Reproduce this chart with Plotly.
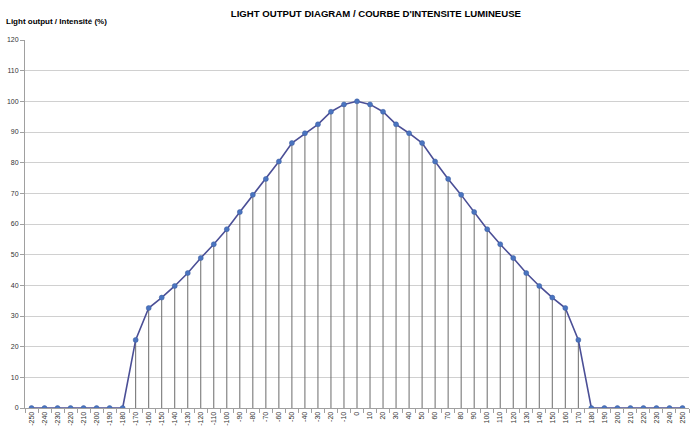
import plotly.graph_objects as go

angles = list(range(-250, 251, 10))
right_half = [100, 99.0, 96.6, 92.5, 89.6, 86.4, 80.4, 74.7, 69.5, 63.9, 58.3,
              53.4, 48.9, 44.0, 39.8, 36.0, 32.6, 22.2, 0, 0, 0, 0, 0, 0, 0, 0]
intensity = right_half[:0:-1] + right_half
tick_labels = [str(a) for a in angles]
cats = tick_labels

fig = go.Figure()
fig.add_trace(go.Scatter(
    x=cats, y=intensity, mode="lines+markers",
    line=dict(color="#4B4F96", width=1.6),
    marker=dict(symbol="circle", size=5, color="#4A74C0",
                line=dict(color="#3D5C9E", width=0.5)),
    error_y=dict(type="data", symmetric=False,
                 array=[0] * len(intensity), arrayminus=intensity,
                 color="#6B6B6B", thickness=1, width=0),
    hoverinfo="x+y", showlegend=False,
))

fig.update_layout(
    width=700, height=440,
    margin=dict(l=25, r=11, t=40, b=32),
    paper_bgcolor="white", plot_bgcolor="white",
    font=dict(family="Liberation Sans, Arial, sans-serif", color="#000"),
    title=dict(text="<b>LIGHT OUTPUT DIAGRAM / COURBE D'INTENSITE LUMINEUSE</b>",
               x=0.537, xanchor="center", y=0.97, yanchor="middle",
               font=dict(size=9.6, color="#000")),
    annotations=[dict(text="<b>Light output / Intensité (%)</b>",
                      xref="paper", yref="paper", x=-0.0315, y=1.05,
                      xanchor="left", yanchor="middle", showarrow=False,
                      font=dict(size=8, color="#000"))],
)
fig.update_xaxes(
    type="category", categoryorder="array", categoryarray=cats,
    tickvals=cats, ticktext=tick_labels, tickangle=-90,
    tickfont=dict(size=7, color="#333"),
    showgrid=False, showline=True, linecolor="#A0A0A0", linewidth=1,
    ticks="outside", ticklen=4, tickcolor="#A0A0A0", tickson="boundaries",
    range=[-0.5, 50.5], automargin=False, zeroline=False,
)
fig.update_yaxes(
    range=[0, 120], dtick=10, tickfont=dict(size=7, color="#333"),
    showgrid=True, gridcolor="#D0D0D0", gridwidth=1,
    showline=True, linecolor="#A0A0A0", linewidth=1,
    ticks="outside", ticklen=4, tickcolor="#A0A0A0",
    zeroline=False, automargin=False,
)

fig.write_html("out.html", config={"displayModeBar": False},
               post_script="document.body.style.margin='0';document.body.style.overflow='hidden';")
